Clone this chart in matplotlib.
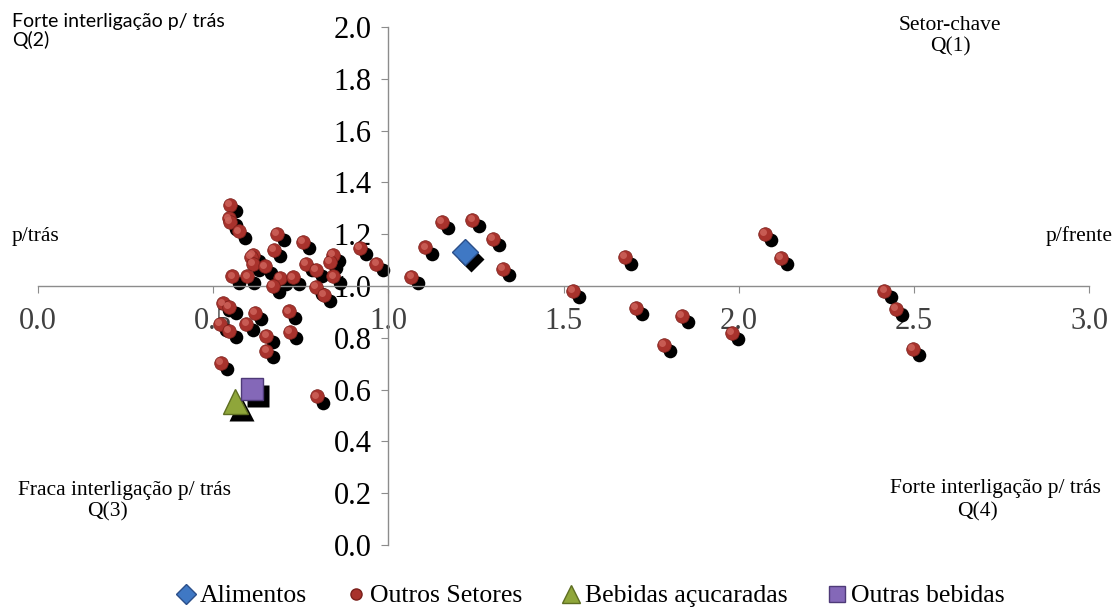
import matplotlib
matplotlib.use("Agg")
from matplotlib import pyplot as plt
from matplotlib import transforms
from matplotlib.lines import Line2D

plt.rcParams['font.family'] = 'serif'
plt.rcParams['font.serif'] = ['Liberation Serif', 'DejaVu Serif']

# Outros Setores (x = p/frente, y = p/tras)
outros_x = [0.548, 0.546, 0.548, 0.573, 0.683, 0.755, 0.673, 0.614, 0.607, 0.614,
            0.648, 0.764, 0.793, 0.841, 0.833, 0.919, 0.966, 0.555, 0.598, 0.690,
            0.728, 0.671, 0.843, 0.793, 0.816, 0.527, 0.546, 0.619, 0.717, 0.519,
            0.546, 0.595, 0.652, 0.719, 0.652, 0.521, 0.797, 1.152, 1.240, 1.106,
            1.299, 1.328, 1.066, 1.527, 1.675, 1.706, 1.838, 1.787, 1.981, 2.074,
            2.120, 2.416, 2.448, 2.497]
outros_y = [1.314, 1.261, 1.246, 1.211, 1.201, 1.169, 1.139, 1.120, 1.111, 1.085,
            1.076, 1.085, 1.063, 1.121, 1.092, 1.146, 1.085, 1.037, 1.037, 1.030,
            1.033, 1.001, 1.037, 0.995, 0.965, 0.933, 0.918, 0.896, 0.902, 0.853,
            0.827, 0.853, 0.808, 0.824, 0.750, 0.703, 0.574, 1.248, 1.256, 1.149,
            1.181, 1.066, 1.036, 0.980, 1.111, 0.915, 0.885, 0.773, 0.819, 1.201,
            1.108, 0.982, 0.911, 0.757]

alimentos_x = [1.218]
alimentos_y = [1.130]
acucaradas_x = [0.562]
acucaradas_y = [0.555]
outras_beb_x = [0.610]
outras_beb_y = [0.601]

xticks = [0.0, 0.5, 1.0, 1.5, 2.0, 2.5, 3.0]
yticks = [0.0, 0.2, 0.4, 0.6, 0.8, 1.0, 1.2, 1.4, 1.6, 1.8, 2.0]

W, H = 1118, 612
fig = plt.figure(figsize=(W / 100, H / 100), dpi=100)
ax = fig.add_axes([38 / W, 67 / H, 1051 / W, 518 / H])

shadow = transforms.offset_copy(ax.transData, fig=fig, x=4.5, y=-4.5, units='points')
hilite = transforms.offset_copy(ax.transData, fig=fig, x=-1.3, y=1.3, units='points')

# sombras
ax.plot(outros_x, outros_y, 'o', color='black', ms=9.8, mec='none', transform=shadow, zorder=2)
ax.plot(alimentos_x, alimentos_y, 'D', color='black', ms=13.5, mec='none', transform=shadow, zorder=2)
ax.plot(acucaradas_x, acucaradas_y, '^', color='black', ms=18, mec='none', transform=shadow, zorder=2)
ax.plot(outras_beb_x, outras_beb_y, 's', color='black', ms=16.5, mec='none', transform=shadow, zorder=2)

# marcadores
ax.plot(outros_x, outros_y, 'o', color='#A8322C', ms=9.8, mec='#7A1F1A', mew=0.5, zorder=3)
ax.plot(outros_x, outros_y, 'o', color='#D0665E', ms=5, mec='none', alpha=0.8, transform=hilite, zorder=3)
ax.plot(alimentos_x, alimentos_y, 'D', color='#3F78C4', ms=13.5, mec='#2B4F8A', mew=1, zorder=3)
ax.plot(acucaradas_x, acucaradas_y, '^', color='#8FA63A', ms=18, mec='#5E6E22', mew=1, zorder=3)
ax.plot(outras_beb_x, outras_beb_y, 's', color='#8468B8', ms=16.5, mec='#4E3A78', mew=1, zorder=3)

ax.set_xlim(0, 3)
ax.set_ylim(0, 2)
ax.spines['left'].set_position(('data', 1.0))
ax.spines['bottom'].set_position(('data', 1.0))
ax.spines['top'].set_visible(False)
ax.spines['right'].set_visible(False)
for s in ['left', 'bottom']:
    ax.spines[s].set_color('#8C8C8C')
    ax.spines[s].set_linewidth(1)

ax.set_xticks(xticks)
ax.set_xticklabels(['%.1f' % v for v in xticks])
ax.set_yticks(yticks)
ax.set_yticklabels(['%.1f' % v for v in yticks])
ax.tick_params(axis='both', direction='out', length=5, color='#8C8C8C', labelsize=22)
ax.tick_params(axis='x', pad=10, labelcolor='#404040')
ax.tick_params(axis='y', pad=7, labelcolor='black')
ax.patch.set_visible(False)

def ftxt(px, py, s, **kw):
    fig.text(px / W, 1 - py / H, s, **kw)

ftxt(12, 31, 'Forte interligação p/ trás\nQ(2)', family=['Lato', 'DejaVu Sans'], fontsize=14,
     ha='left', va='center', linespacing=1.0)
ftxt(950, 26, 'Setor-chave', fontsize=15.5, ha='center', va='center')
ftxt(950, 47, 'Q(1)', fontsize=15.5, ha='center', va='center')
ftxt(12, 236, 'p/trás', fontsize=15.5, ha='left', va='center')
ftxt(1113, 236, 'p/frente', fontsize=15.5, ha='right', va='center')
ftxt(125, 491, 'Fraca interligação p/ trás', fontsize=15.5, ha='center', va='center')
ftxt(107, 512, 'Q(3)', fontsize=15.5, ha='center', va='center')
ftxt(995, 489, 'Forte interligação p/ trás', fontsize=15.5, ha='center', va='center')
ftxt(978, 512, 'Q(4)', fontsize=15.5, ha='center', va='center')

handles = [
    Line2D([], [], ls='none', marker='D', color='#3F78C4', mec='#2B4F8A', ms=10, label='Alimentos'),
    Line2D([], [], ls='none', marker='o', color='#A8322C', mec='#7A1F1A', ms=8, label='Outros Setores'),
    Line2D([], [], ls='none', marker='^', color='#8FA63A', mec='#5E6E22', ms=13, label='Bebidas açucaradas'),
    Line2D([], [], ls='none', marker='s', color='#8468B8', mec='#4E3A78', ms=11, label='Outras bebidas'),
]
fig.legend(handles=handles, loc='center', bbox_to_anchor=(590 / W, 1 - 596 / H), ncol=4,
           frameon=False, fontsize=18.5, handlelength=0.8, handletextpad=0.15,
           columnspacing=1.5, borderpad=0)

fig.savefig('out.png', dpi=100)
